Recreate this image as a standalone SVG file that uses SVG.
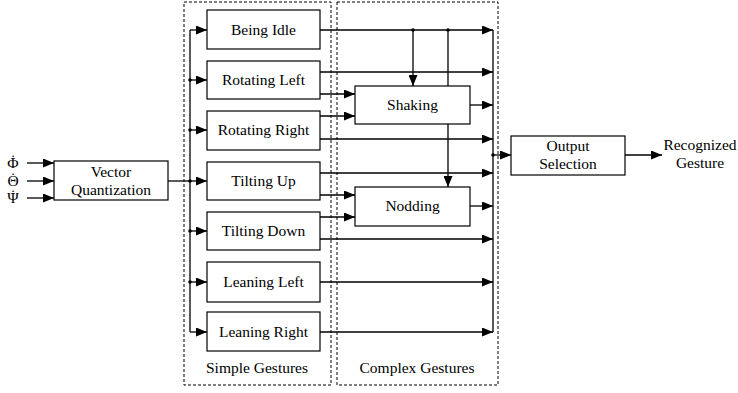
<svg xmlns="http://www.w3.org/2000/svg" width="738" height="393" viewBox="0 0 738 393">
<defs>
<marker id="ah" markerUnits="userSpaceOnUse" markerWidth="11" markerHeight="9" refX="11" refY="4.5" orient="auto"><path d="M0,0 L11,4.5 L0,9 z" fill="#000"/></marker>
<style>
.box{fill:#fff;stroke:#000;stroke-width:1.2}
.grp{fill:none;stroke:#000;stroke-width:1;stroke-dasharray:3,2}
.ln{fill:none;stroke:#000;stroke-width:1.3}
.ar{fill:none;stroke:#000;stroke-width:1.3;marker-end:url(#ah)}
text{font-family:"Liberation Serif","Times New Roman",serif;font-size:15.5px;text-anchor:middle;fill:#000}
</style>
</defs>
<rect width="738" height="393" fill="#fff"/>
<g id="simple-group"><rect class="grp" x="184" y="2" width="147" height="383"/><text x="257" y="373">Simple Gestures</text></g>
<g id="complex-group"><rect class="grp" x="337" y="2" width="161" height="383"/><text x="417" y="373">Complex Gestures</text></g>
<g id="connectors">
<path class="ar" d="M27,163 H54"/>
<path class="ar" d="M27,181 H54"/>
<path class="ar" d="M27,198 H54"/>
<path class="ln" d="M168,181 H190"/>
<path class="ln" d="M190,30 V332"/>
<path class="ar" d="M190,30 H207"/>
<path class="ar" d="M190,80 H207"/>
<path class="ar" d="M190,130 H207"/>
<path class="ar" d="M190,181 H207"/>
<path class="ar" d="M190,231 H207"/>
<path class="ar" d="M190,282 H207"/>
<path class="ar" d="M190,332 H207"/>
<circle cx="190" cy="80" r="1.8"/><circle cx="190" cy="130" r="1.8"/><circle cx="190" cy="181" r="1.8"/><circle cx="190" cy="231" r="1.8"/><circle cx="190" cy="282" r="1.8"/>
<path class="ar" d="M320,30 H493"/>
<path class="ar" d="M413,30 V86"/>
<path class="ar" d="M448,30 V187"/>
<circle cx="413" cy="30" r="1.8"/><circle cx="448" cy="30" r="1.8"/>
<path class="ar" d="M320,72 H493"/>
<path class="ar" d="M320,94 H355"/>
<path class="ar" d="M320,116 H355"/>
<path class="ar" d="M320,139 H493"/>
<path class="ar" d="M470,105 H493"/>
<path class="ar" d="M320,173 H493"/>
<path class="ar" d="M320,195 H355"/>
<path class="ar" d="M320,217 H355"/>
<path class="ar" d="M320,239 H493"/>
<path class="ar" d="M470,206 H493"/>
<path class="ar" d="M320,282 H493"/>
<path class="ar" d="M320,332 H493"/>
<path class="ln" d="M493,30 V332"/>
<path class="ar" d="M493,155 H511"/>
<circle cx="493" cy="155" r="1.8"/>
<path class="ar" d="M625,155 H662"/>
</g>
<g id="inputs"><text x="13" y="168">Φ<tspan x="13" dy="-3">˙</tspan></text><text x="13" y="186">Θ<tspan x="13" dy="-3">˙</tspan></text><text x="13" y="203">Ψ<tspan x="13" dy="-3">˙</tspan></text></g>
<g id="vq"><rect class="box" x="54" y="161" width="114" height="39"/><text x="111" y="177">Vector</text><text x="111" y="195">Quantization</text></g>
<g id="being-idle"><rect class="box" x="207" y="10" width="113" height="39"/><text x="263.5" y="35">Being Idle</text></g>
<g id="rotating-left"><rect class="box" x="207" y="61" width="113" height="38"/><text x="263.5" y="85">Rotating Left</text></g>
<g id="rotating-right"><rect class="box" x="207" y="111" width="113" height="39"/><text x="263.5" y="135">Rotating Right</text></g>
<g id="tilting-up"><rect class="box" x="207" y="162" width="113" height="38"/><text x="263.5" y="186">Tilting Up</text></g>
<g id="tilting-down"><rect class="box" x="207" y="212" width="113" height="38"/><text x="263.5" y="236">Tilting Down</text></g>
<g id="leaning-left"><rect class="box" x="207" y="262" width="113" height="40"/><text x="263.5" y="287">Leaning Left</text></g>
<g id="leaning-right"><rect class="box" x="207" y="312" width="113" height="39"/><text x="263.5" y="337">Leaning Right</text></g>
<g id="shaking"><rect class="box" x="355" y="86" width="115" height="38"/><text x="412.5" y="110">Shaking</text></g>
<g id="nodding"><rect class="box" x="355" y="187" width="115" height="39"/><text x="412.5" y="211">Nodding</text></g>
<g id="output-selection"><rect class="box" x="511" y="136" width="114" height="39"/><text x="568" y="151">Output</text><text x="568" y="169">Selection</text></g>
<g id="recognized"><text x="700" y="150">Recognized</text><text x="700" y="168">Gesture</text></g>
</svg>
